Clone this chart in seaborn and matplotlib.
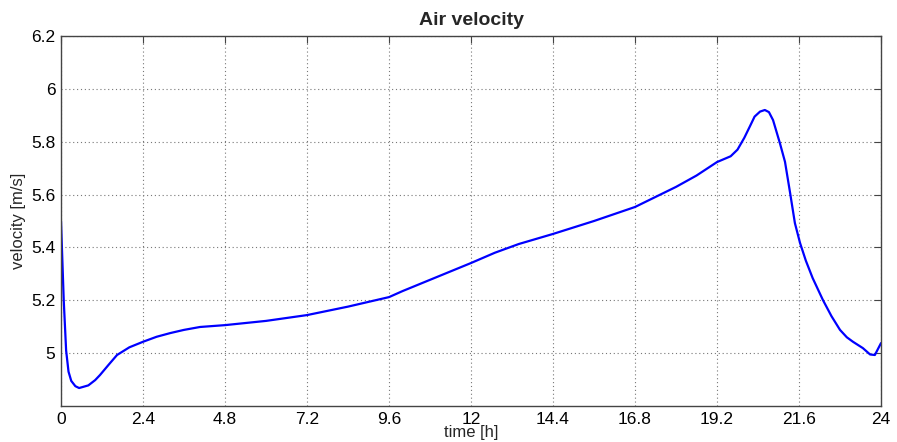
import matplotlib
matplotlib.use("Agg")
import matplotlib.pyplot as plt
import seaborn as sns
import pandas as pd

time_h = [0.0, 0.08, 0.15, 0.22, 0.3, 0.42, 0.53, 0.8, 1.0, 1.14, 1.4, 1.64, 2.0, 2.4, 2.8, 3.2, 3.6, 4.07, 4.8,
          6.0, 7.2, 8.4, 9.6, 10.0, 11.0, 12.0, 12.7, 13.4, 14.4, 15.6, 16.8, 18.0, 18.6, 19.2,
          19.6, 19.8, 20.0, 20.17, 20.3, 20.46, 20.6, 20.72, 20.84, 21.04, 21.19, 21.34, 21.48, 21.63, 21.8, 22.0,
          22.3, 22.55, 22.8, 23.0, 23.18, 23.47, 23.68, 23.82, 24.0]
velocity = [5.5, 5.2, 5.01, 4.93, 4.895, 4.875, 4.868, 4.878, 4.898, 4.917, 4.957, 4.993, 5.022, 5.043, 5.062, 5.076, 5.088, 5.099, 5.106,
            5.122, 5.144, 5.176, 5.212, 5.235, 5.288, 5.341, 5.38, 5.413, 5.451, 5.5, 5.553, 5.629, 5.672, 5.723,
            5.745, 5.77, 5.815, 5.86, 5.895, 5.914, 5.92, 5.912, 5.882, 5.795, 5.724, 5.606, 5.492, 5.417, 5.35, 5.284,
            5.201, 5.14, 5.088, 5.06, 5.043, 5.019, 4.995, 4.993, 5.038]
x_ticks = [0, 2.4, 4.8, 7.2, 9.6, 12, 14.4, 16.8, 19.2, 21.6, 24]
y_ticks = [5.0, 5.2, 5.4, 5.6, 5.8, 6.0, 6.2]
y_tick_labels = ["5", "5.2", "5.4", "5.6", "5.8", "6", "6.2"]

sns.set_style("white")
plt.rcParams['font.family'] = ['Liberation Sans', 'DejaVu Sans']

df = pd.DataFrame({"time": time_h, "velocity": velocity})

fig = plt.figure(figsize=(8.97, 4.42), dpi=100)
ax = fig.add_axes([61/897, 36/442, 820/897, 370/442])
sns.lineplot(data=df, x="time", y="velocity", ax=ax, color="#0000ff", linewidth=1.6)

ax.set_xlim(0, 24)
ax.set_ylim(4.8, 6.2)
ax.set_xticks(x_ticks)
ax.set_xticklabels([f"{v:g}" for v in x_ticks])
ax.set_yticks(y_ticks)
ax.set_yticklabels(y_tick_labels)
ax.grid(True, linestyle=(0, (1, 2.5)), color="#777777", linewidth=0.8)
ax.tick_params(direction="in", length=5, width=0.8, colors="#444444", labelcolor="black",
               labelsize=12.5, top=True, right=True, pad=4)
for s in ax.spines.values():
    s.set_color("#444444")
    s.set_linewidth(1.0)
ax.set_xlabel("time [h]", fontsize=12, labelpad=-1)
ax.set_ylabel("velocity [m/s]", fontsize=12, labelpad=4)
ax.set_title("Air velocity", fontsize=14, fontweight="bold", pad=8)

fig.savefig("out.png", dpi=100)
